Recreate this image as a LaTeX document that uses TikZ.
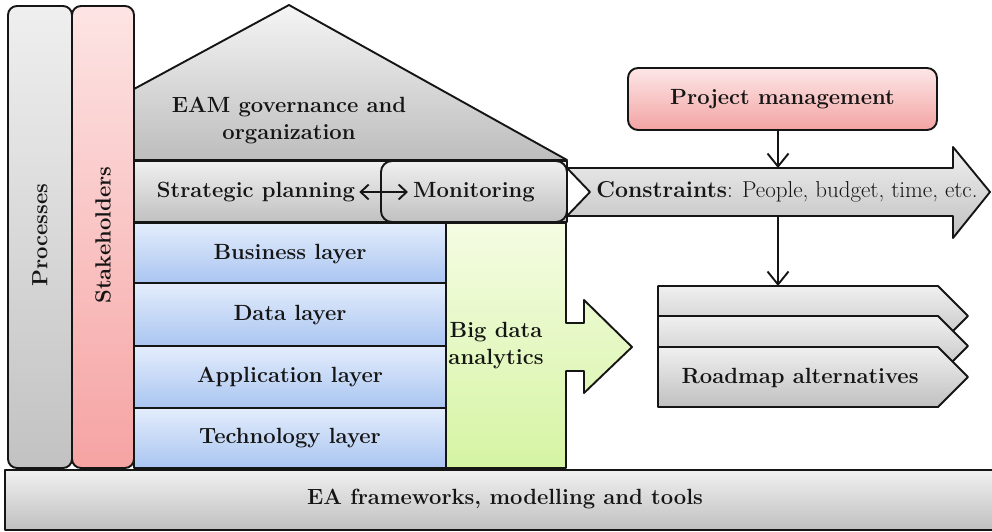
\documentclass[tikz,border=0pt]{standalone}
\usetikzlibrary{arrows.meta}
\definecolor{procTop}{HTML}{EFEFEF}
\definecolor{procBot}{HTML}{C2C2C2}
\definecolor{stakeTop}{HTML}{FDE4E4}
\definecolor{stakeBot}{HTML}{F6A3A3}
\definecolor{roofTop}{HTML}{F5F5F5}
\definecolor{roofBot}{HTML}{BDBDBD}
\definecolor{grayTop}{HTML}{F0F0F0}
\definecolor{grayBot}{HTML}{C0C0C0}
\definecolor{blueTop}{HTML}{E4EDFC}
\definecolor{blueBot}{HTML}{A9C5F1}
\definecolor{greenTop}{HTML}{F5FCE3}
\definecolor{greenBot}{HTML}{D5F4A3}
\definecolor{pmTop}{HTML}{FDE7E7}
\definecolor{pmBot}{HTML}{F3A3A3}
\definecolor{edge}{HTML}{151515}
\begin{document}
\begin{tikzpicture}[x=1pt,y=-1pt,
  ol/.style={draw=edge, line width=1.9pt, line join=round},
  grayfill/.style={top color=grayTop, bottom color=grayBot},
  bluefill/.style={top color=blueTop, bottom color=blueBot},
  lbl/.style={font=\fontsize{22}{27}\selectfont\bfseries, inner sep=0pt, align=center, text=edge},
  barb/.style={line width=1.9pt, draw=edge, -{Straight Barb[length=13pt,width=21pt,line width=1.9pt]}},
  dbl/.style={line width=1.9pt, draw=edge, {Straight Barb[length=8pt,width=15pt,line width=1.9pt]}-{Straight Barb[length=8pt,width=15pt,line width=1.9pt]}}
]
\useasboundingbox (0,0) rectangle (992,531);
\fill[white] (0,0) rectangle (992,531);

% side columns
\draw[ol, rounded corners=9pt, top color=procTop, bottom color=procBot] (8,6) rectangle (72,468);
\node[lbl, rotate=90] (proc) at (40,235) {Processes};
\draw[ol, rounded corners=9pt, top color=stakeTop, bottom color=stakeBot] (72,6) rectangle (134,468);
\node[lbl, rotate=90] (stake) at (103,235) {Stakeholders};

% roof
\draw[ol, top color=roofTop, bottom color=roofBot] (134,89) -- (289,5) -- (567,160) -- (134,160) -- cycle;
\node[lbl] (eam) at (289,121) {EAM governance and\\organization};

% strategic planning row and monitoring
\draw[ol, grayfill] (134,161) rectangle (567,222);
\node[lbl] (sp) at (256,192) {Strategic planning};
\draw[ol, rounded corners=11pt, grayfill] (381,161) rectangle (567,222);
\node[lbl] (mon) at (474,192) {Monitoring};
\draw[dbl] ([xshift=4pt]sp.east) -- ([xshift=-5pt]mon.west);

% layers
\draw[ol, bluefill] (134,223) rectangle (446,283);
\node[lbl] (bus) at (290,254) {Business layer};
\draw[ol, bluefill] (134,283) rectangle (446,346);
\node[lbl] (dat) at (290,315) {Data layer};
\draw[ol, bluefill] (134,346) rectangle (446,408);
\node[lbl] (app) at (290,377) {Application layer};
\draw[ol, bluefill] (134,408) rectangle (446,468);
\node[lbl] (tec) at (290,438) {Technology layer};

% big data analytics
\draw[ol, top color=greenTop, bottom color=greenBot] (446,223) -- (566,223) -- (566,323) -- (584,323) -- (584,300) -- (632,347) -- (584,393) -- (584,371) -- (566,371) -- (566,468) -- (446,468) -- cycle;
\node[lbl] (bda) at (496,346) {Big data\\analytics};

% constraints arrow
\draw[ol, grayfill] (567,168) -- (953,168) -- (953,147) -- (990,192) -- (953,238) -- (953,216) -- (567,216) -- (590,192) -- cycle;
\node[font=\fontsize{23}{27}\selectfont, inner sep=0pt, text=edge] (cons) at (787,192) {\textbf{Constraints}: People, budget, time, etc.};
\coordinate (ctop) at (778,168);
\coordinate (cbot) at (778,216);

% project management
\node[ol, lbl, rounded corners=10pt, minimum width=309pt, minimum height=62pt, top color=pmTop, bottom color=pmBot] (pm) at (782.5,99) {Project management};
\draw[barb] (pm.south -| ctop) -- (ctop);

% roadmap alternatives
\draw[ol, grayfill] (658,286) -- (938,286) -- (968,316) -- (938,346) -- (658,346) -- cycle;
\draw[ol, grayfill] (658,316) -- (938,316) -- (968,346) -- (938,376) -- (658,376) -- cycle;
\draw[ol, grayfill] (658,347) -- (938,347) -- (968,377) -- (938,407) -- (658,407) -- cycle;
\node[lbl] (rm) at (800,378) {Roadmap alternatives};
\coordinate (rtop) at (778,286);
\draw[barb] (cbot) -- (rtop);

% EA frameworks bar
\draw[ol, grayfill] (5,470) rectangle (1000,530);
\node[lbl] (ea) at (505,499) {EA frameworks, modelling and tools};
\end{tikzpicture}
\end{document}
